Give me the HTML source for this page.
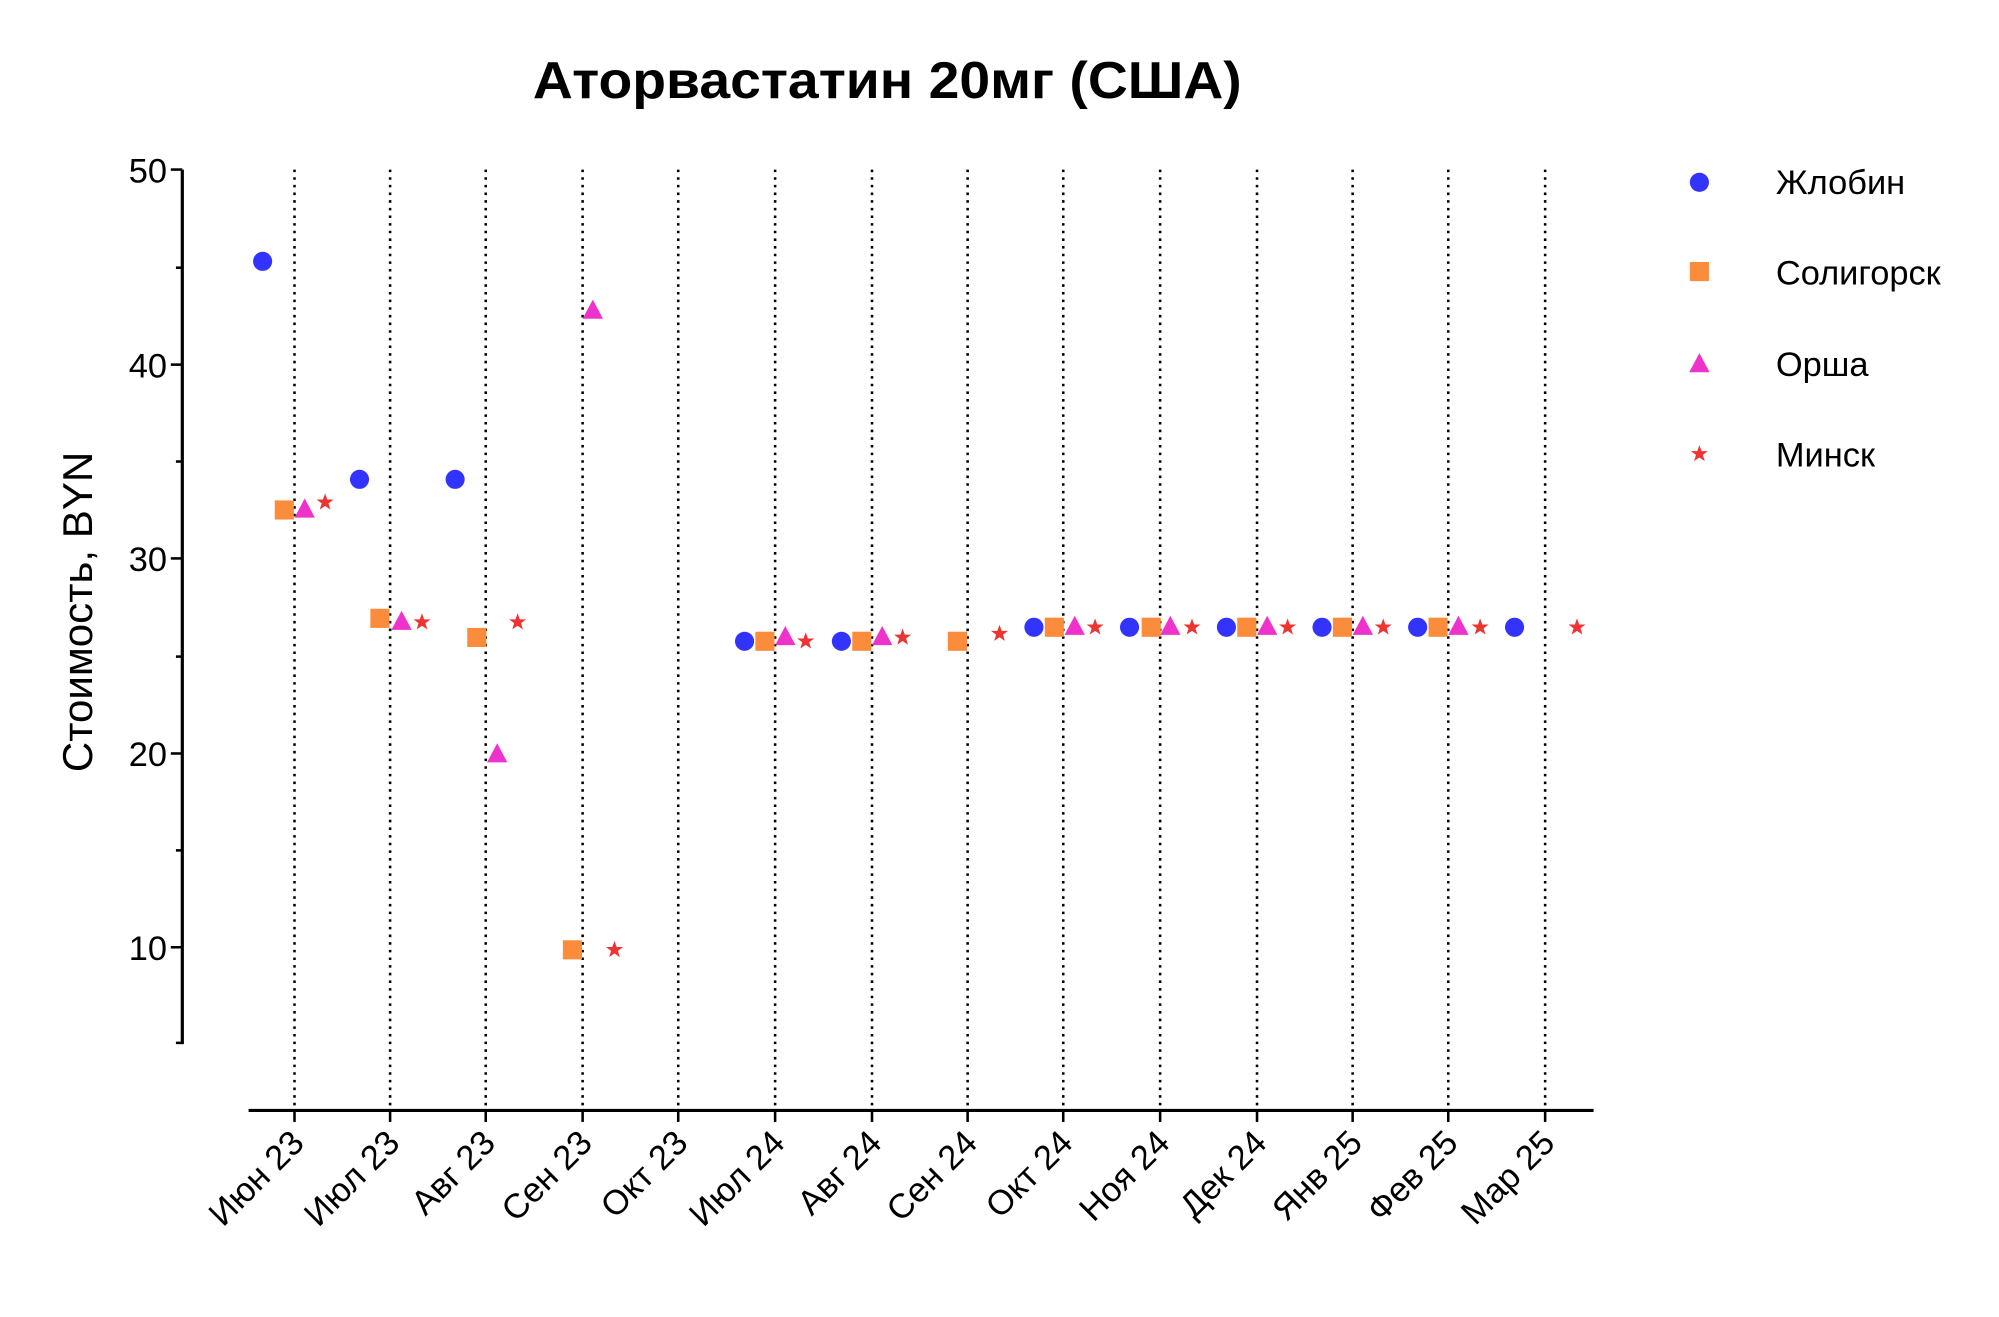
<!DOCTYPE html>
<html><head><meta charset="utf-8"><style>html,body{margin:0;padding:0;background:#fff}svg{display:block}</style></head><body>
<svg width="1999" height="1317" viewBox="0 0 1568 1033" preserveAspectRatio="none" xmlns="http://www.w3.org/2000/svg" font-family="Liberation Sans, Arial, sans-serif">
<defs>
<circle id="c" r="7.5" fill="#3333ff"/>
<rect id="s" x="-7.5" y="-7.5" width="15" height="15" fill="#fb8c3c"/>
<polygon id="t" points="0,-9 8,6 -8,6" fill="#ee33cc"/>
<polygon id="st" points="0,-7 1.7,-2.2 6.7,-2.2 2.7,0.8 4.2,5.7 0,2.8 -4.2,5.7 -2.7,0.8 -6.7,-2.2 -1.7,-2.2" fill="#ee3333"/>
</defs>
<text x="696" y="77" font-size="41" font-weight="bold" text-anchor="middle" textLength="556" lengthAdjust="spacingAndGlyphs">Аторвастатин 20мг (США)</text>
<g stroke="#000" stroke-width="2.5" fill="none">
<line x1="143" y1="133" x2="143" y2="819"/>
<line x1="195" y1="871" x2="1250" y2="871"/>
<g stroke-width="2">
<line x1="134" y1="133" x2="143" y2="133"/><line x1="134" y1="286" x2="143" y2="286"/><line x1="134" y1="438" x2="143" y2="438"/><line x1="134" y1="591" x2="143" y2="591"/><line x1="134" y1="743" x2="143" y2="743"/>
<line x1="138" y1="210" x2="143" y2="210"/><line x1="138" y1="362" x2="143" y2="362"/><line x1="138" y1="515" x2="143" y2="515"/><line x1="138" y1="667" x2="143" y2="667"/><line x1="138" y1="818" x2="143" y2="818"/>
</g>
<g stroke-width="2" stroke-dasharray="2,4">
<line x1="231" y1="133" x2="231" y2="871"/><line x1="306" y1="133" x2="306" y2="871"/><line x1="381" y1="133" x2="381" y2="871"/><line x1="457" y1="133" x2="457" y2="871"/><line x1="532" y1="133" x2="532" y2="871"/><line x1="608" y1="133" x2="608" y2="871"/><line x1="684" y1="133" x2="684" y2="871"/><line x1="759" y1="133" x2="759" y2="871"/><line x1="834" y1="133" x2="834" y2="871"/><line x1="910" y1="133" x2="910" y2="871"/><line x1="986" y1="133" x2="986" y2="871"/><line x1="1061" y1="133" x2="1061" y2="871"/><line x1="1136" y1="133" x2="1136" y2="871"/><line x1="1212" y1="133" x2="1212" y2="871"/>
</g>
<g stroke-width="2">
<line x1="231" y1="871" x2="231" y2="880"/><line x1="306" y1="871" x2="306" y2="880"/><line x1="381" y1="871" x2="381" y2="880"/><line x1="457" y1="871" x2="457" y2="880"/><line x1="532" y1="871" x2="532" y2="880"/><line x1="608" y1="871" x2="608" y2="880"/><line x1="684" y1="871" x2="684" y2="880"/><line x1="759" y1="871" x2="759" y2="880"/><line x1="834" y1="871" x2="834" y2="880"/><line x1="910" y1="871" x2="910" y2="880"/><line x1="986" y1="871" x2="986" y2="880"/><line x1="1061" y1="871" x2="1061" y2="880"/><line x1="1136" y1="871" x2="1136" y2="880"/><line x1="1212" y1="871" x2="1212" y2="880"/>
</g>
</g>
<g font-size="27" text-anchor="end">
<text x="131" y="143">50</text><text x="131" y="296">40</text><text x="131" y="448">30</text><text x="131" y="601">20</text><text x="131" y="753">10</text>
</g>
<text transform="translate(72,480) rotate(-90)" font-size="33" text-anchor="middle">Стоимость, BYN</text>
<g font-size="27" text-anchor="end">
<text transform="translate(240,898) rotate(-45)">Июн 23</text>
<text transform="translate(315,898) rotate(-45)">Июл 23</text>
<text transform="translate(390,898) rotate(-45)">Авг 23</text>
<text transform="translate(466,898) rotate(-45)">Сен 23</text>
<text transform="translate(541,898) rotate(-45)">Окт 23</text>
<text transform="translate(617,898) rotate(-45)">Июл 24</text>
<text transform="translate(693,898) rotate(-45)">Авг 24</text>
<text transform="translate(768,898) rotate(-45)">Сен 24</text>
<text transform="translate(843,898) rotate(-45)">Окт 24</text>
<text transform="translate(919,898) rotate(-45)">Ноя 24</text>
<text transform="translate(995,898) rotate(-45)">Дек 24</text>
<text transform="translate(1070,898) rotate(-45)">Янв 25</text>
<text transform="translate(1145,898) rotate(-45)">Фев 25</text>
<text transform="translate(1221,898) rotate(-45)">Мар 25</text>
</g>
<use href="#c" x="206" y="205"/><use href="#s" x="223" y="400"/><use href="#t" x="239" y="400"/><use href="#st" x="255" y="394"/>
<use href="#c" x="282" y="376"/><use href="#s" x="298" y="485"/><use href="#t" x="315" y="488"/><use href="#st" x="331" y="488"/>
<use href="#c" x="357" y="376"/><use href="#s" x="374" y="500"/><use href="#t" x="390" y="592"/><use href="#st" x="406" y="488"/>
<use href="#s" x="449" y="745"/><use href="#t" x="465" y="244"/><use href="#st" x="482" y="745"/>
<use href="#c" x="584" y="503"/><use href="#s" x="600" y="503"/><use href="#t" x="616" y="500"/><use href="#st" x="632" y="503"/>
<use href="#c" x="660" y="503"/><use href="#s" x="676" y="503"/><use href="#t" x="692" y="500"/><use href="#st" x="708" y="500"/>
<use href="#s" x="751" y="503"/><use href="#st" x="784" y="497"/>
<use href="#c" x="811" y="492"/><use href="#s" x="827" y="492"/><use href="#t" x="843" y="492"/><use href="#st" x="859" y="492"/>
<use href="#c" x="886" y="492"/><use href="#s" x="903" y="492"/><use href="#t" x="918" y="492"/><use href="#st" x="935" y="492"/>
<use href="#c" x="962" y="492"/><use href="#s" x="978" y="492"/><use href="#t" x="994" y="492"/><use href="#st" x="1010" y="492"/>
<use href="#c" x="1037" y="492"/><use href="#s" x="1053" y="492"/><use href="#t" x="1069" y="492"/><use href="#st" x="1085" y="492"/>
<use href="#c" x="1112" y="492"/><use href="#s" x="1128" y="492"/><use href="#t" x="1144" y="492"/><use href="#st" x="1161" y="492"/>
<use href="#c" x="1188" y="492"/><use href="#st" x="1237" y="492"/>
<use href="#c" x="1333" y="143"/><use href="#s" x="1333" y="213"/><use href="#t" x="1333" y="286"/><use href="#st" x="1333" y="356"/>
<g font-size="27">
<text x="1393" y="152">Жлобин</text><text x="1393" y="223">Солигорск</text><text x="1393" y="295">Орша</text><text x="1393" y="366">Минск</text>
</g>
</svg>
</body></html>
